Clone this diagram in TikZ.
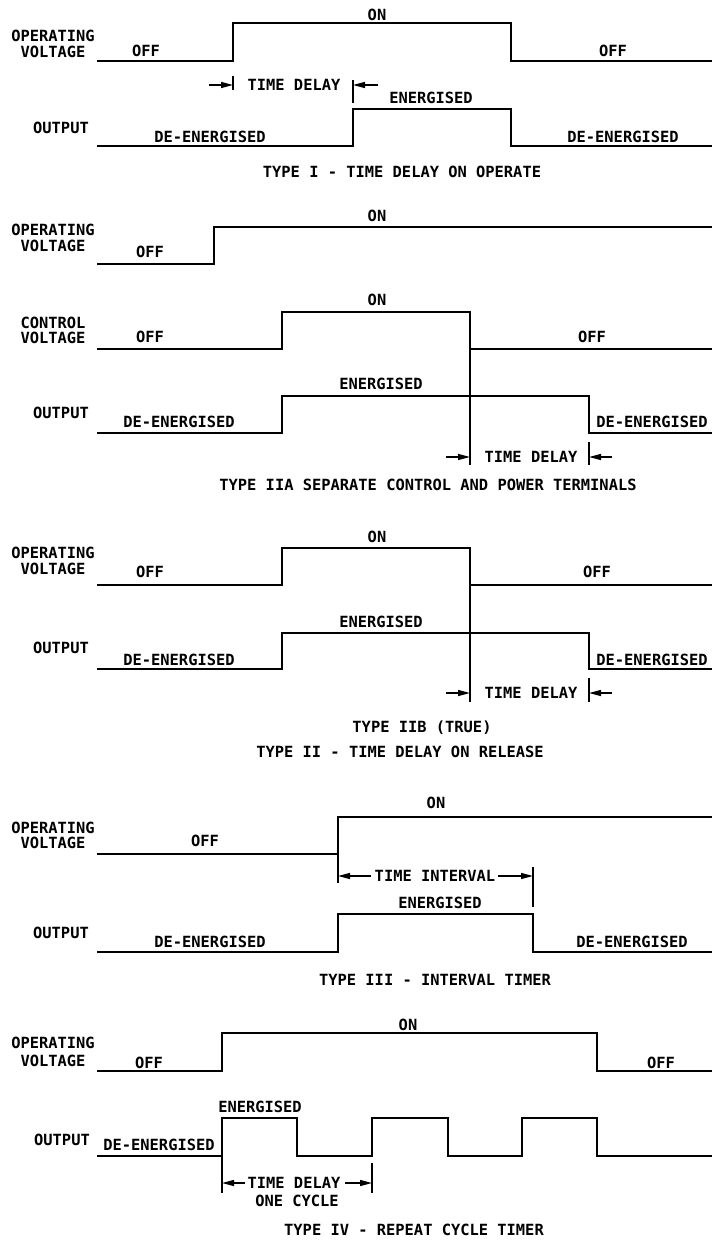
\documentclass[tikz,border=0pt]{standalone}
\usepackage{fontspec}
\setmainfont{DejaVu Sans Mono}[FakeStretch=1.0]
\usetikzlibrary{arrows.meta}
\begin{document}
\begin{tikzpicture}[x=1pt,y=-1pt,
  wave/.style={line width=1.9pt,line join=miter},
  tick/.style={line width=1.6pt},
  dim/.style={line width=1.4pt,-{Triangle[length=12pt,width=6pt]}},
  lbl/.style={inner sep=0pt,text height=11pt,text depth=0pt,anchor=center,
    font=\fontsize{15.4}{17}\selectfont\bfseries}]
\useasboundingbox (0,0) rectangle (712,1242);

% ---------------- TYPE I ----------------
\draw[wave] (97,61) -- (233,61) -- (233,23) -- (511,23) -- (511,61) -- (712,61);
\draw[wave] (97,146) -- (353,146) -- (353,109) -- (511,109) -- (511,146) -- (712,146);
\draw[tick] (353,80) -- (353,103);
\draw[tick] (233,76) -- (233,90);
\draw[dim] (209,85) -- (233,85);
\draw[dim] (378,85) -- (353,85);
\node[lbl] (a1) at (53,36) {OPERATING};
\node[lbl] (a2) at (53,52) {VOLTAGE};
\node[lbl] (a3) at (146,51) {OFF};
\node[lbl] (a4) at (377,15) {ON};
\node[lbl] (a5) at (613,51) {OFF};
\node[lbl] (a6) at (294,85) {TIME DELAY};
\node[lbl] (a7) at (431,98) {ENERGISED};
\node[lbl] (a8) at (61,128) {OUTPUT};
\node[lbl] (a9) at (210,137) {DE-ENERGISED};
\node[lbl] (a10) at (623,137) {DE-ENERGISED};
\node[lbl] (a11) at (402,172) {TYPE I - TIME DELAY ON OPERATE};

% ---------------- TYPE IIA ----------------
\draw[wave] (97,264) -- (214,264) -- (214,227) -- (712,227);
\draw[wave] (97,349) -- (282,349) -- (282,312) -- (470,312) -- (470,349) -- (712,349);
\draw[tick] (470,349) -- (470,465);
\draw[wave] (97,433) -- (282,433) -- (282,396) -- (589,396) -- (589,433) -- (712,433);
\draw[tick] (589,442) -- (589,465);
\draw[dim] (446,457) -- (470,457);
\draw[dim] (612,457) -- (589,457);
\node[lbl] (b1) at (53,230) {OPERATING};
\node[lbl] (b2) at (53,246) {VOLTAGE};
\node[lbl] (b3) at (150,252) {OFF};
\node[lbl] (b4) at (377,216) {ON};
\node[lbl] (b5) at (53,323) {CONTROL};
\node[lbl] (b6) at (53,338) {VOLTAGE};
\node[lbl] (b7) at (150,337) {OFF};
\node[lbl] (b8) at (377,300) {ON};
\node[lbl] (b9) at (592,337) {OFF};
\node[lbl] (b10) at (381,384) {ENERGISED};
\node[lbl] (b11) at (61,413) {OUTPUT};
\node[lbl] (b12) at (179,422) {DE-ENERGISED};
\node[lbl] (b13) at (652,422) {DE-ENERGISED};
\node[lbl] (b14) at (531,457) {TIME DELAY};
\node[lbl] (b15) at (428,485) {TYPE IIA SEPARATE CONTROL AND POWER TERMINALS};

% ---------------- TYPE IIB ----------------
\draw[wave] (97,585) -- (282,585) -- (282,548) -- (470,548) -- (470,585) -- (712,585);
\draw[tick] (470,585) -- (470,702);
\draw[wave] (97,669) -- (282,669) -- (282,633) -- (589,633) -- (589,669) -- (712,669);
\draw[tick] (589,678) -- (589,702);
\draw[dim] (446,693) -- (470,693);
\draw[dim] (612,693) -- (589,693);
\node[lbl] (c1) at (53,553) {OPERATING};
\node[lbl] (c2) at (53,569) {VOLTAGE};
\node[lbl] (c3) at (150,572) {OFF};
\node[lbl] (c4) at (377,537) {ON};
\node[lbl] (c5) at (597,572) {OFF};
\node[lbl] (c6) at (381,622) {ENERGISED};
\node[lbl] (c7) at (61,648) {OUTPUT};
\node[lbl] (c8) at (179,660) {DE-ENERGISED};
\node[lbl] (c9) at (652,660) {DE-ENERGISED};
\node[lbl] (c10) at (531,693) {TIME DELAY};
\node[lbl] (c11) at (422,727) {TYPE IIB (TRUE)};
\node[lbl] (c12) at (400,752) {TYPE II - TIME DELAY ON RELEASE};

% ---------------- TYPE III ----------------
\draw[wave] (97,854) -- (338,854) -- (338,817) -- (712,817);
\draw[tick] (338,854) -- (338,883);
\draw[tick] (533,867) -- (533,907);
\draw[dim] (371,876) -- (338,876);
\draw[dim] (498,876) -- (533,876);
\draw[wave] (97,952) -- (338,952) -- (338,914) -- (533,914) -- (533,952) -- (712,952);
\node[lbl] (d1) at (53,828) {OPERATING};
\node[lbl] (d2) at (53,843) {VOLTAGE};
\node[lbl] (d3) at (205,841) {OFF};
\node[lbl] (d4) at (436,803) {ON};
\node[lbl] (d5) at (435,876) {TIME INTERVAL};
\node[lbl] (d6) at (440,903) {ENERGISED};
\node[lbl] (d7) at (61,933) {OUTPUT};
\node[lbl] (d8) at (210,942) {DE-ENERGISED};
\node[lbl] (d9) at (632,942) {DE-ENERGISED};
\node[lbl] (d10) at (435,980) {TYPE III - INTERVAL TIMER};

% ---------------- TYPE IV ----------------
\draw[wave] (97,1071) -- (222,1071) -- (222,1033) -- (597,1033) -- (597,1071) -- (712,1071);
\draw[wave] (97,1156) -- (222,1156) -- (222,1118) -- (297,1118) -- (297,1156)
  -- (372,1156) -- (372,1118) -- (448,1118) -- (448,1156) -- (522,1156)
  -- (522,1118) -- (597,1118) -- (597,1156) -- (712,1156);
\draw[tick] (222,1156) -- (222,1193);
\draw[tick] (372,1163) -- (372,1193);
\draw[dim] (245,1183) -- (222,1183);
\draw[dim] (345,1183) -- (372,1183);
\node[lbl] (e1) at (53,1043) {OPERATING};
\node[lbl] (e2) at (53,1061) {VOLTAGE};
\node[lbl] (e3) at (149,1063) {OFF};
\node[lbl] (e4) at (408,1025) {ON};
\node[lbl] (e5) at (661,1063) {OFF};
\node[lbl] (e6) at (260,1107) {ENERGISED};
\node[lbl] (e7) at (62,1140) {OUTPUT};
\node[lbl] (e8) at (159,1145) {DE-ENERGISED};
\node[lbl] (e9) at (294,1183) {TIME DELAY};
\node[lbl] (e10) at (297,1201) {ONE CYCLE};
\node[lbl] (e11) at (414,1230) {TYPE IV - REPEAT CYCLE TIMER};
\end{tikzpicture}
\end{document}
